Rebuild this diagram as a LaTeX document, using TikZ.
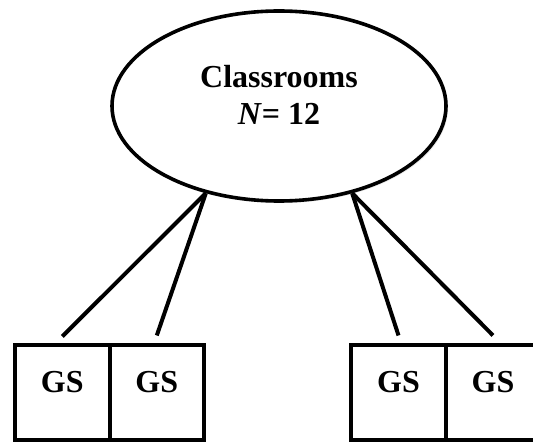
\documentclass[tikz,border=0pt]{standalone}
\usepackage{fontspec}
\setmainfont{Liberation Serif}
\usetikzlibrary{shapes.geometric,positioning,shadows}

\begin{document}
\begin{tikzpicture}[x=1pt,y=-1pt,
		group/.style={draw,ellipse,line width=3.6pt,fill=white,inner sep=0pt,
			minimum width=334pt,minimum height=190pt,
			drop shadow={opacity=0.18,shadow xshift=2pt,shadow yshift=-2pt}},
		gsbox/.style={draw,rectangle,line width=4pt,inner sep=0pt,outer sep=0pt,
			minimum width=94.5pt,minimum height=94.5pt,
			text height=22pt,text depth=22pt},
		link/.style={line width=4pt},
		every node/.style={font=\fontsize{32}{37}\selectfont\bfseries}]
		\clip (0,0) rectangle (533,443);
		% classrooms
		\node[group] (cls) at (279,106) {};
		\node[align=center,anchor=base] (clstext) at (279,125) {Classrooms\\\textit{N}= 12};
		% students
		\node[gsbox] (g1) at (62.3,392.7) {GS};
		\node[gsbox,right=0pt of g1] (g2) {GS};
		\node[gsbox] (g3) at (398.5,392.7) {GS};
		\node[gsbox,right=0pt of g3] (g4) {GS};
		% links
		\draw[link] (cls.230) -- ([yshift=9pt]g1.north);
		\draw[link] (cls.230) -- ([yshift=10pt]g2.north);
		\draw[link] (cls.310) -- ([yshift=10pt]g3.north);
		\draw[link] (cls.310) -- ([yshift=10pt]g4.north);
\end{tikzpicture}
\end{document}
